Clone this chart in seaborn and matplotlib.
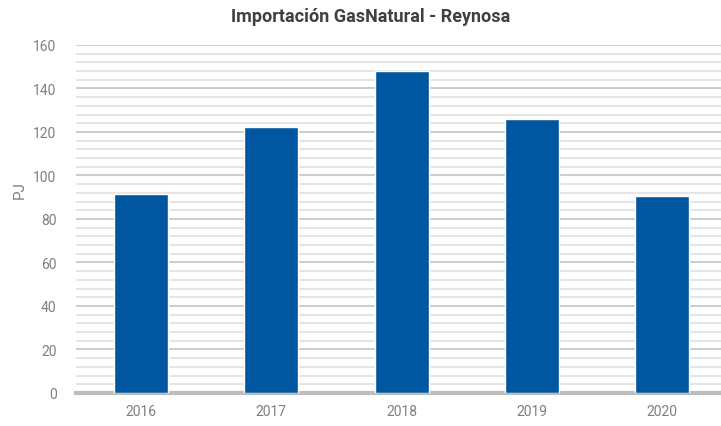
import matplotlib
matplotlib.use("Agg")
import matplotlib.pyplot as plt
import seaborn as sns
import pandas as pd
from matplotlib.ticker import MultipleLocator

anios = ["2016", "2017", "2018", "2019", "2020"]
valores_pj = [91.5, 122.5, 148.2, 126.0, 90.5]
ticks_y = [0, 20, 40, 60, 80, 100, 120, 140, 160]

COLOR_BARRA = "#00569F"
COLOR_TEXTO = "#7f7f7f"

sns.set_style("white")
plt.rcParams["font.family"] = ["Liberation Sans Narrow", "Roboto", "DejaVu Sans"]

df = pd.DataFrame({"anio": anios, "pj": valores_pj})

fig = plt.figure(figsize=(7.21, 4.27), dpi=100)
ax = fig.add_axes([0.1054, 0.0773, 0.903, 0.815])

sns.barplot(data=df, x="anio", y="pj", color=COLOR_BARRA, width=0.415,
            saturation=1, ax=ax, zorder=3)

ax.set_ylim(0, 160)
ax.set_xlim(-0.5, 4.5)
ax.set_yticks(ticks_y)
ax.yaxis.set_minor_locator(MultipleLocator(4))
ax.grid(axis="y", which="major", color="#c8c8c8", linewidth=1.3, zorder=0)
ax.grid(axis="y", which="minor", color="#e3e3e3", linewidth=1.3, zorder=0)
ax.set_axisbelow(True)

for lado in ["top", "right", "left"]:
    ax.spines[lado].set_visible(False)
ax.spines["bottom"].set_color("#bdbdbd")
ax.spines["bottom"].set_linewidth(3)

ax.tick_params(axis="both", which="both", length=0, colors=COLOR_TEXTO, labelsize=10)
ax.tick_params(axis="y", pad=14)
ax.tick_params(axis="x", pad=8)
ax.set_xlabel("")
ax.set_ylabel("")

fig.text(20 / 721, 1 - 190 / 427, "PJ", rotation=90, ha="center", va="center",
         fontsize=11, color=COLOR_TEXTO)
fig.text(371 / 721, 1 - 17 / 427, "Importación GasNatural - Reynosa",
         ha="center", va="center", fontsize=13, fontweight="bold", color="#404040")

fig.savefig("out.png", dpi=100)
